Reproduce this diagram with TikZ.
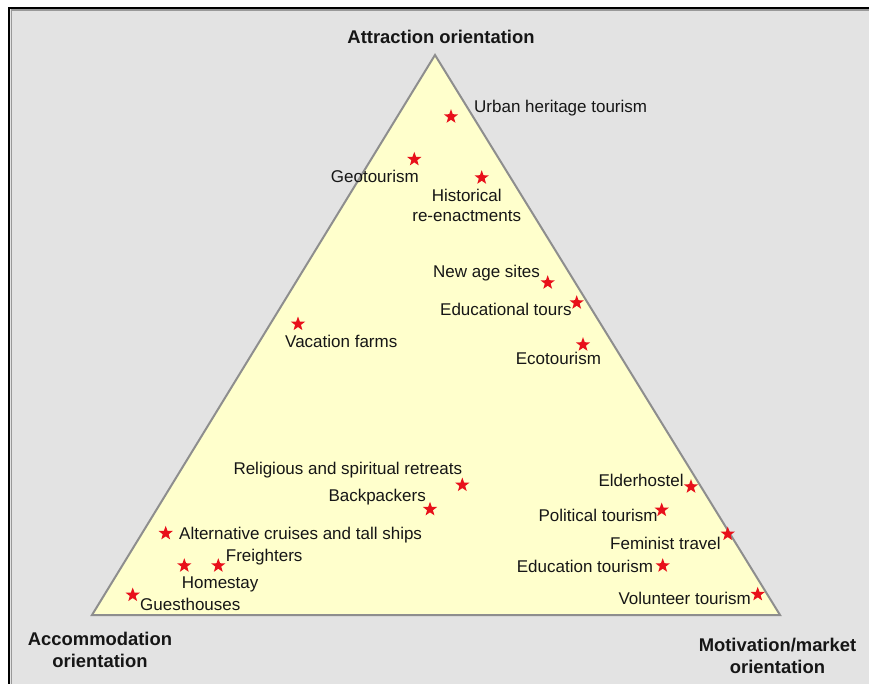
\documentclass[tikz,border=0pt]{standalone}
\usepackage{fontspec}
\setmainfont{Liberation Sans}
\usetikzlibrary{shapes.geometric}
\definecolor{panelbg}{HTML}{E3E3E3}
\definecolor{trifill}{HTML}{FFFFCC}
\definecolor{triedge}{HTML}{8E8E8E}
\definecolor{starred}{HTML}{E8101A}
\definecolor{inktext}{HTML}{161616}
\tikzset{
  mark star/.style={star, star points=5, star point ratio=2.45, minimum size=15pt,
    inner sep=0pt, fill=starred, draw=none},
  item/.style={anchor=base west, inner sep=0pt, text=inktext,
    font=\fontsize{17}{20}\selectfont},
  corner/.style={inner sep=0pt, text=inktext, align=center,
    font=\fontsize{18.4}{22.5}\selectfont\bfseries},
}
\begin{document}
\begin{tikzpicture}[x=1pt,y=-1pt]
\useasboundingbox (0,0) rectangle (869,684);
% panel with its frame
\fill[white] (0,0) rectangle (869,684);
\fill[panelbg] (9,8) rectangle (869,684);
\draw[black!40, line width=1.6pt] (11.3,684) -- (11.3,10.3) -- (869,10.3);
\draw[black, line width=2.4pt] (9.2,684) -- (9.2,8.2) -- (869,8.2);

% triangle of orientations
\coordinate (apex) at (435,55);
\coordinate (bl) at (92,615);
\coordinate (br) at (780,615);
\draw[fill=trifill, draw=triedge, line width=2pt, line join=miter] (apex) -- (bl) -- (br) -- cycle;

% corner labels
\node[corner, anchor=base] (attr) at (441,44) {Attraction orientation};
\node[corner] (accom) at (100,650) {Accommodation\\orientation};
\node[corner] (motiv) at (777.5,656) {Motivation/market\\orientation};

% forms of tourism
\node[mark star] (s1) at (451,116.7) {};
\node[item] (t1) at (474,112.7) {Urban heritage tourism};

\node[mark star] (s2) at (414.3,159.3) {};
\node[item] (t2) at (330.7,182.7) {Geotourism};

\node[mark star] (s3) at (481.7,177.7) {};
\node[inner sep=0pt, text=inktext, align=center, font=\fontsize{17}{20}\selectfont]
  (t3) at (466.7,205.5) {Historical\\re-enactments};

\node[mark star] (s4) at (547.7,282.7) {};
\node[item] (t4) at (433,277.3) {New age sites};

\node[mark star] (s5) at (576.7,302.7) {};
\node[item] (t5) at (440,315) {Educational tours};

\node[mark star] (s6) at (583,344.7) {};
\node[item] (t6) at (515.7,364) {Ecotourism};

\node[mark star] (s7) at (298,324) {};
\node[item] (t7) at (285,347) {Vacation farms};

\node[mark star] (s8) at (462.3,485) {};
\node[item] (t8) at (233.3,474.3) {Religious and spiritual retreats};

\node[mark star] (s9) at (430,509.3) {};
\node[item] (t9) at (328.3,501) {Backpackers};

\node[mark star] (s10) at (165.7,533.3) {};
\node[item] (t10) at (179,539) {Alternative cruises and tall ships};

\node[mark star] (s11) at (218.3,565.7) {};
\node[item] (t11) at (225.7,561) {Freighters};

\node[mark star] (s12) at (184.3,565.7) {};
\node[item] (t12) at (181.7,588.3) {Homestay};

\node[mark star] (s13) at (132.7,595) {};
\node[item] (t13) at (140,610) {Guesthouses};

\node[mark star] (s14) at (691,486.7) {};
\node[item] (t14) at (598.3,486.7) {Elderhostel};

\node[mark star] (s15) at (661.7,510) {};
\node[item] (t15) at (538.3,521.7) {Political tourism};

\node[mark star] (s16) at (727.7,534) {};
\node[item] (t16) at (610,549.3) {Feminist travel};

\node[mark star] (s17) at (662.7,565.7) {};
\node[item] (t17) at (516.7,572.3) {Education tourism};

\node[mark star] (s18) at (757.7,594.3) {};
\node[item] (t18) at (618.3,604.3) {Volunteer tourism};
\end{tikzpicture}
\end{document}
